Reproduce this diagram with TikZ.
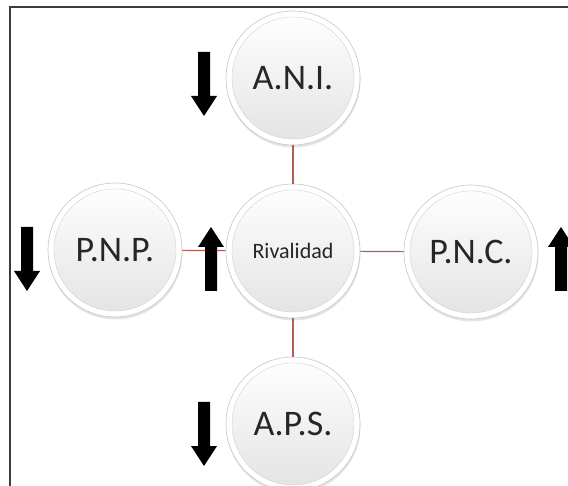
\documentclass[tikz,border=0pt]{standalone}
\usepackage{fontspec}
\setmainfont{Carlito}
\usetikzlibrary{shadows}
\definecolor{linkred}{RGB}{175,95,85}
\definecolor{framegray}{RGB}{60,60,60}
\tikzset{
  bubble/.style={circle, minimum size=134pt, inner sep=0pt, fill=white,
    draw=gray!45, line width=0.6pt,
    drop shadow={opacity=0.3, shadow xshift=0.5pt, shadow yshift=-2.5pt, fill=gray!70},
    path picture={\shade[top color=white, bottom color=gray!22, draw=gray!35, line width=0.4pt]
      (path picture bounding box.center) circle[radius=61pt];},
    font=\fontsize{36}{40}\selectfont, text=black!85},
  link/.style={draw=linkred, line width=1.2pt},
  dnarrow/.pic={\fill[black] (-6,0) -- (6,0) -- (6,44) -- (13,44) -- (0,64) -- (-13,44) -- (-6,44) -- cycle;},
  uparrow/.pic={\fill[black] (0,0) -- (13,20) -- (6,20) -- (6,64) -- (-6,64) -- (-6,20) -- (-13,20) -- cycle;}
}
\begin{document}
\begin{tikzpicture}[x=1pt,y=-1pt]
  \useasboundingbox (0,0) rectangle (568,486);
  \begin{scope}
    \clip (0,0) rectangle (568,486);
    % frame
    \draw[framegray, line width=1.5pt] (10,490) -- (10,7) -- (572,7);
    % bubbles
    \node[bubble] (riv) at (293,251) {\fontsize{22}{26}\selectfont Rivalidad};
    \node[bubble] (ani) at (293,78) {A.N.I.};
    \node[bubble] (pnp) at (115,250) {P.N.P.};
    \node[bubble] (pnc) at (471,252) {P.N.C.};
    \node[bubble] (aps) at (293,424) {A.P.S.};
    % connectors
    \draw[link] (riv) -- (ani);
    \draw[link] (riv) -- (pnp);
    \draw[link] (riv) -- (pnc);
    \draw[link] (riv) -- (aps);
    % trend arrows
    \pic at (204,52) {dnarrow};
    \pic at (27,227) {dnarrow};
    \pic at (211,227) {uparrow};
    \pic at (561,227) {uparrow};
    \pic at (204,402) {dnarrow};
  \end{scope}
\end{tikzpicture}
\end{document}
